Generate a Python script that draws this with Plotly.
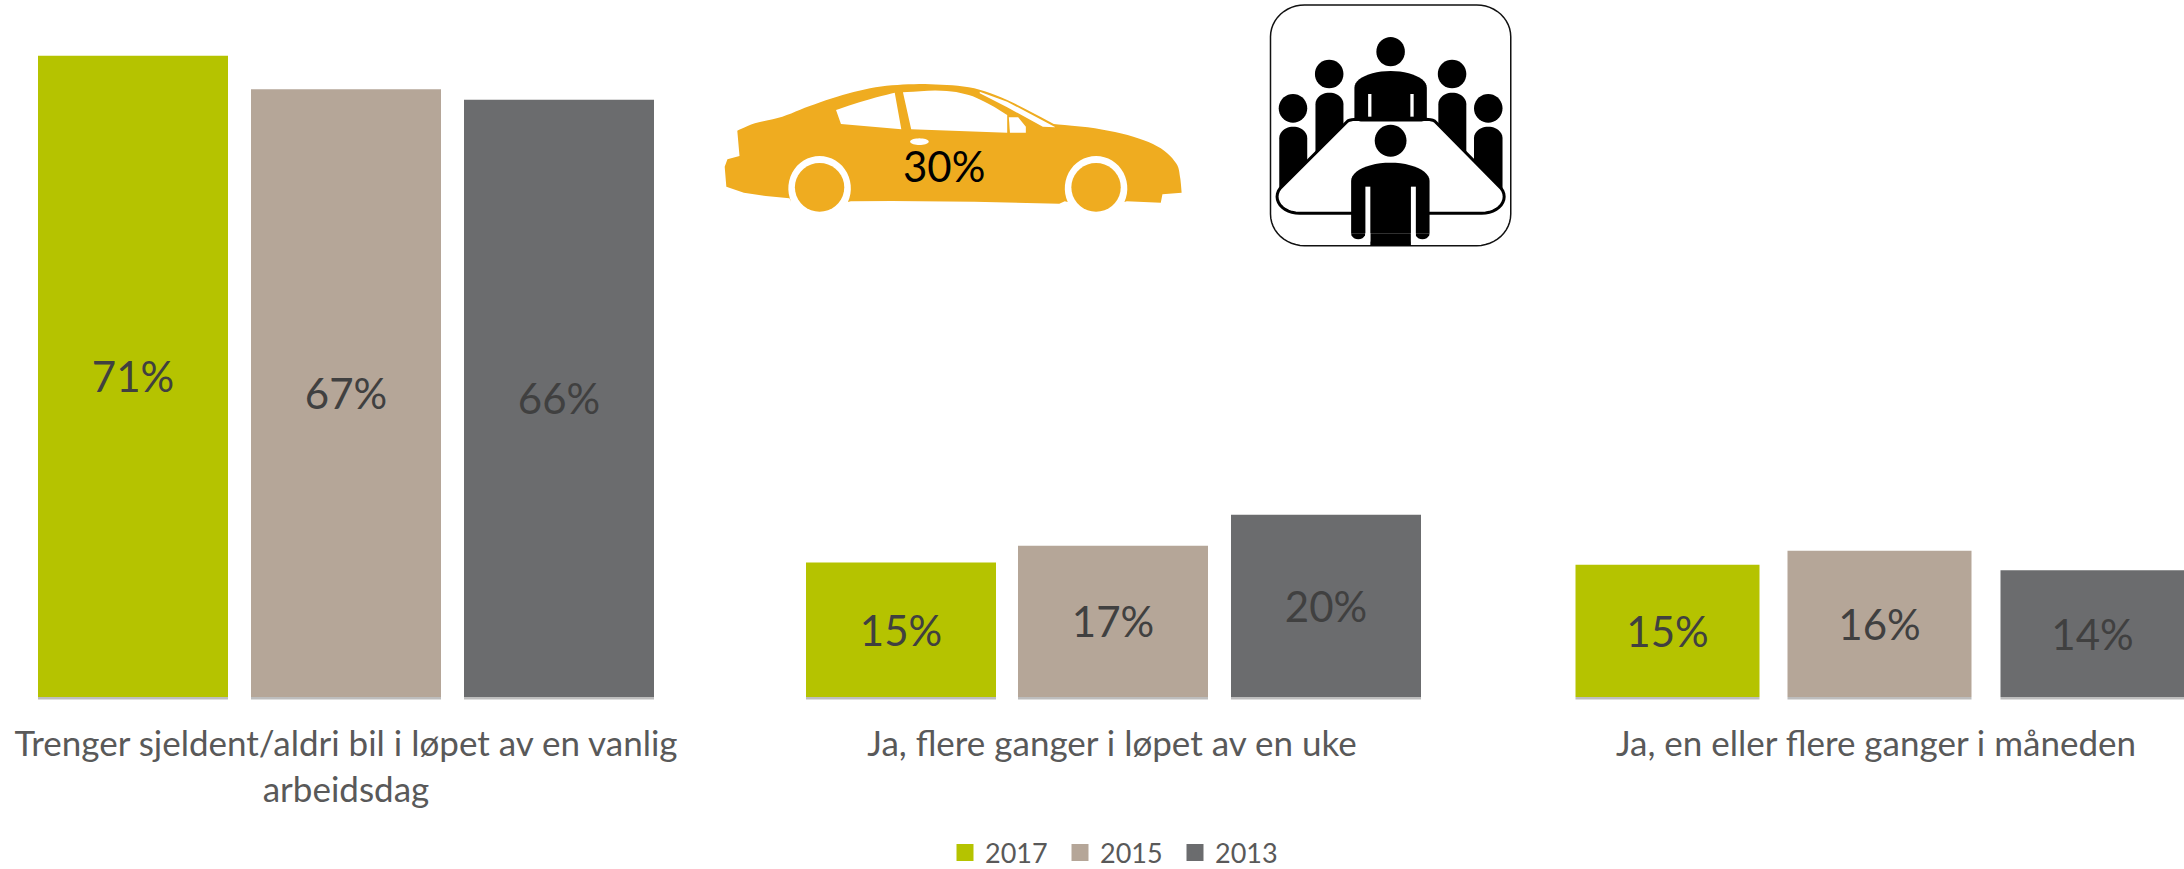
import math
import plotly.graph_objects as go

# ---- data ----
categories = ["Trenger sjeldent/aldri bil i løpet av en vanlig<br>arbeidsdag",
              "Ja, flere ganger i løpet av en uke",
              "Ja, en eller flere ganger i måneden"]
series_names = ["2017", "2015", "2013"]
values_2017 = [70.85, 14.85, 14.6]
values_2015 = [67.15, 16.7, 16.15]
values_2013 = [66.0, 20.15, 14.0]
car_value = 30

# ---- style / layout ----
W, H = 2184, 869
BASE = 697
PX_PER_UNIT = 9.05
UNIT = 767
CENTER0 = 346
COLORS = ["#b5c300", "#b5a698", "#6b6c6e"]
TEXT = "#595959"
LABEL = "#404040"
FONT = "Lato"
OFFSETS_PX = [[-308, -307, -304.5], [-95, -95, -92.5], [118, 118, 120.5]]
WIDTHS_PX = [190, 190, 184]
TICK_POS = [0, 1 - 1 / UNIT, 2 - 4 / UNIT]


def px(x):
    return x / W


def py(y):
    return (BASE - y) / BASE


def zoom_pt(zx, zy):
    return 700 + zx / 1.823, zy / 3.0


def path(points):
    parts = []
    for i, (zx, zy) in enumerate(points):
        x, y = zoom_pt(zx, zy)
        parts.append(("M" if i == 0 else "L") + f"{px(x):.5f},{py(y):.5f}")
    return " ".join(parts) + " Z"


def smooth(points, n=6):
    """Catmull-Rom resampling of an icon outline."""
    out = []
    m = len(points)
    for i in range(m - 1):
        p0, p1, p2, p3 = points[max(i - 1, 0)], points[i], points[i + 1], points[min(i + 2, m - 1)]
        for k in range(n):
            t = k / n
            out.append(tuple(0.5 * (2 * p1[a] + (p2[a] - p0[a]) * t + (2 * p0[a] - 5 * p1[a] + 4 * p2[a] - p3[a]) * t ** 2
                                    + (3 * p1[a] - p0[a] - 3 * p2[a] + p3[a]) * t ** 3) for a in (0, 1)))
    out.append(points[-1])
    return out


def ell_points(cx, cy, rx, ry, a0, a1, n=24):
    return [(cx + rx * math.cos(math.radians(a0 + (a1 - a0) * i / n)),
             cy + ry * math.sin(math.radians(a0 + (a1 - a0) * i / n))) for i in range(n + 1)]


def poly(points, fill, line=None, lw=0):
    return dict(type="path", xref="paper", yref="paper", path=path(points), fillcolor=fill,
                line=dict(color=line or fill, width=lw), layer="above")


def ell(cx, cy, rx, ry, fill):
    return poly(ell_points(cx, cy, rx, ry, 0, 360, 36), fill)


def rounded_body(x0, x1, top, bottom, r_y):
    rx = (x1 - x0) / 2
    return ell_points((x0 + x1) / 2, top + r_y, rx, r_y, 180, 360) + [(x1, bottom), (x0, bottom)]


shapes = []
CAR = "#efac20"
car = smooth([(68, 392), (100, 370), (150, 350), (200, 318), (260, 285), (320, 262), (380, 253), (440, 254),
              (500, 265), (560, 300), (645, 372)])
car += smooth([(645, 372), (720, 385), (790, 410), (840, 445), (868, 490), (875, 530), (878, 578)])
car += [(843, 583), (840, 608), (778, 604)]
car += ell_points(722, 565, 57, 97, 25, -205, 30)
car += [(665, 604), (655, 611), (500, 605), (350, 603), (275, 604)]
car += ell_points(218, 565, 57, 97, 25, -205, 30)
car += [(163, 595), (120, 588), (80, 578), (48, 560), (45, 500), (50, 478), (72, 468)]
shapes.append(poly(car, CAR))
shapes.append(ell(218, 562, 45, 73, CAR))
shapes.append(ell(722, 562, 45, 73, CAR))
shapes.append(poly(smooth([(248, 330), (300, 302), (355, 278)]) + [(367, 388), (257, 372)], "white"))
shapes.append(poly(smooth([(370, 277), (440, 272), (490, 285), (530, 315), (560, 345)]) + [(560, 398), (385, 388)], "white"))
shapes.append(poly([(563, 352), (580, 352), (594, 380), (594, 398), (565, 398)], "white"))
shapes.append(poly([(510, 275), (560, 305), (648, 382), (625, 380), (560, 322), (510, 280)], "white"))
shapes.append(ell(400, 425, 17, 10, "white"))

# meeting icon frame
fx0, fx1, fy0, fy1, rx, ry = 1040, 1478, 15, 737, 62, 95
frame = (ell_points(fx0 + rx, fy0 + ry, rx, ry, 180, 270, 12) + ell_points(fx1 - rx, fy0 + ry, rx, ry, 270, 360, 12)
         + ell_points(fx1 - rx, fy1 - ry, rx, ry, 0, 90, 12) + ell_points(fx0 + rx, fy1 - ry, rx, ry, 90, 180, 12))
shapes.append(poly(frame, "white", "#111111", 1.5))
for cx, cy, a, b in [(1259, 155, 26, 44), (1147, 222, 26, 43), (1371, 222, 26, 43),
                     (1081, 325, 26, 43), (1437, 325, 26, 43)]:
    shapes.append(ell(cx, cy, a, b, "black"))
shapes.append(poly(rounded_body(1193, 1325, 213, 370, 50), "black"))
shapes.append(poly([(1218, 282), (1224, 282), (1224, 350), (1218, 350)], "white"))
shapes.append(poly([(1295, 282), (1301, 282), (1301, 350), (1295, 350)], "white"))
shapes.append(poly(rounded_body(1122, 1173, 278, 470, 35), "black"))
shapes.append(poly(rounded_body(1346, 1397, 278, 470, 35), "black"))
shapes.append(poly(rounded_body(1056, 1107, 380, 570, 35), "black"))
shapes.append(poly(rounded_body(1411, 1463, 380, 570, 35), "black"))
table = (ell_points(1195, 375, 20, 17, 225, 300, 6) + ell_points(1325, 375, 20, 17, 240, 315, 6)
         + ell_points(1425, 590, 41, 50, 330, 450, 12) + ell_points(1093, 590, 41, 50, 90, 210, 12))
shapes.append(poly(table, "white", "black", 3))
shapes.append(ell(1259, 422, 29, 48, "black"))
shapes.append(poly(rounded_body(1187, 1330, 488, 700, 55), "black"))
shapes.append(poly(ell_points(1200, 700, 13, 18, 0, 180, 10), "black"))
shapes.append(poly(ell_points(1317, 700, 13, 18, 0, 180, 10), "black"))
shapes.append(poly([(1222, 700), (1296, 700), (1296, 737), (1222, 737)], "black"))
shapes.append(poly([(1213, 560), (1222, 560), (1222, 725), (1213, 725)], "white"))
shapes.append(poly([(1296, 560), (1305, 560), (1305, 725), (1296, 725)], "white"))

fig = go.Figure()
all_values = [values_2017, values_2015, values_2013]
for name, vals, col, offs in zip(series_names, all_values, COLORS, OFFSETS_PX):
    fig.add_bar(x=[0, 1, 2], y=vals, name=name, showlegend=False,
                marker=dict(color=col, line=dict(width=0)),
                width=[w / UNIT for w in WIDTHS_PX], offset=[o / UNIT for o in offs],
                text=[f"{round(v)}%" for v in vals], textposition="inside", insidetextanchor="middle",
                textangle=0, insidetextfont=dict(family=FONT, size=42, color=LABEL),
                hoverinfo="skip")
    for i in range(3):
        x0 = i + offs[i] / UNIT
        shapes.append(dict(type="rect", xref="x", yref="paper", x0=x0, x1=x0 + WIDTHS_PX[i] / UNIT,
                           y0=py(BASE), y1=py(BASE + 2.5), fillcolor="#bdbdbd", line=dict(width=0), layer="below"))
    # legend swatch carrier
    fig.add_bar(x=[None], y=[None], name=name, marker=dict(color=col, line=dict(color=col, width=7)))

fig.update_layout(
    width=W, height=H, margin=dict(l=0, r=0, t=0, b=H - BASE, autoexpand=False),
    paper_bgcolor="white", plot_bgcolor="white", barmode="overlay",
    font=dict(family=FONT, color=TEXT),
    xaxis=dict(range=[-CENTER0 / UNIT, (W - CENTER0) / UNIT], tickmode="array", tickvals=TICK_POS,
               ticktext=categories, tickfont=dict(family=FONT, size=35, color=TEXT), showgrid=False,
               zeroline=False, showline=False, ticks="", ticklabelstandoff=23, automargin=False),
    yaxis=dict(range=[0, BASE / PX_PER_UNIT], visible=False, automargin=False),
    legend=dict(orientation="h", x=px(945), xanchor="left", y=py(853), yanchor="middle",
                font=dict(family=FONT, size=27, color=TEXT), itemclick=False, itemdoubleclick=False,
                bgcolor="rgba(0,0,0,0)", entrywidth=70, entrywidthmode="pixels"),
    shapes=shapes,
    annotations=[dict(x=px(944), y=py(166), xref="paper", yref="paper", xanchor="center", yanchor="middle",
                      text=f"{car_value}%", showarrow=False,
                      font=dict(family=FONT, size=42, color="black"))],
)
fig.write_html("out.html", post_script="document.body.style.margin='0';", config=dict(displayModeBar=False))
